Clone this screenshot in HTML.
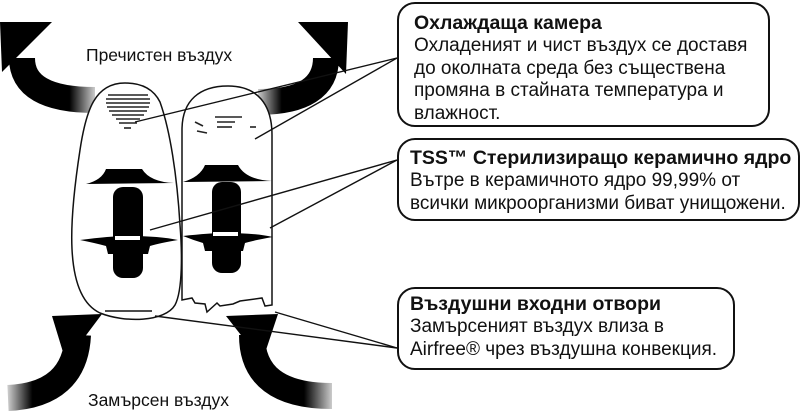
<!DOCTYPE html>
<html><head><meta charset="utf-8"><style>
html,body{margin:0;padding:0;background:#fff;}
body{width:800px;height:414px;position:relative;overflow:hidden;font-family:"Liberation Sans","DejaVu Sans",sans-serif;color:#111;}
.box{position:absolute;border:2px solid #111;border-radius:18px;box-sizing:border-box;}
.t{position:absolute;white-space:nowrap;font-size:19px;line-height:22.5px;}
.b{font-weight:bold;font-size:19.5px;}
</style></head><body>
<svg width="800" height="414" style="position:absolute;left:0;top:0">
<defs>
<linearGradient id="g1" x1="0" y1="0" x2="1" y2="0"><stop offset="0.65" stop-color="#000"/><stop offset="1" stop-color="#ccc"/></linearGradient>
<linearGradient id="g2" x1="1" y1="0" x2="0" y2="0"><stop offset="0.65" stop-color="#000"/><stop offset="1" stop-color="#ccc"/></linearGradient>
</defs>
<!-- arrows -->
<path d="M22,58 Q22,100 95,100" stroke="url(#g1)" stroke-width="26" fill="none"/>
<polygon points="0,22 52,22 2,72" fill="#000"/>
<path d="M326,58 Q326,102 258,102" stroke="url(#g2)" stroke-width="26" fill="none"/>
<polygon points="298,22 348,22 346,74" fill="#000"/>
<path d="M78,335 Q75,395 8,398" stroke="url(#g2)" stroke-width="26" fill="none"/>
<polygon points="52,316 102,314 66,362" fill="#000"/>
<path d="M252,335 Q252,396 332,396" stroke="url(#g1)" stroke-width="26" fill="none"/>
<polygon points="226,316 278,314 262,362" fill="#000"/>
<!-- right body -->
<path d="M182,300 L182,130 C182,100 200,86 228,86 C258,86 272,105 272,135 L272,305 L265,306 L262,298 L240,301 L233,304 L220,306 L217,303 L207,312 L205,304 L195,303 L192,298 Z" fill="#fff" stroke="#111" stroke-width="1.5"/>
<!-- left body -->
<path d="M125,83 C95,83 86,110 80,150 C70,215 62,295 100,313 C125,323 165,322 175,305 C183,290 182,250 180,225 C177,175 170,130 160,102 C153,88 140,83 125,83 Z" fill="#fff" stroke="#111" stroke-width="1.5"/>
<!-- vents -->
<g stroke="#222" stroke-width="1.6">
<line x1="108" y1="95" x2="148" y2="95"/><line x1="106" y1="99" x2="150" y2="99"/><line x1="106" y1="103" x2="150" y2="103"/><line x1="107" y1="107" x2="149" y2="107"/><line x1="109" y1="111" x2="147" y2="111"/><line x1="112" y1="115" x2="144" y2="115"/><line x1="116" y1="119" x2="140" y2="119"/><line x1="119" y1="123" x2="137" y2="123"/><line x1="124" y1="128" x2="131" y2="128"/>
<line x1="215" y1="117" x2="242" y2="117"/><line x1="217" y1="122" x2="235" y2="122"/><line x1="217" y1="127" x2="232" y2="127"/><line x1="195" y1="122" x2="203" y2="126"/><line x1="197" y1="131" x2="207" y2="133"/><line x1="250" y1="127" x2="256" y2="127"/>
</g>
<line x1="105" y1="311" x2="152" y2="311" stroke="#111" stroke-width="1.5"/>
<!-- left internals -->
<path d="M106,169 L142,169 Q150,182 174,183 L86,184 Q102,180 106,169Z" fill="#000"/>
<rect x="113" y="187" width="30" height="91" rx="10" fill="#000"/>
<path d="M80,240 Q110,236 128,236 Q160,236 178,240 Q160,243 150,246 L148,254 L108,254 L106,246 Q95,243 80,240Z" fill="#000"/>
<rect x="115" y="236" width="25" height="4" fill="#fff"/>
<!-- right internals -->
<path d="M205,165 L238,165 Q246,180 272,181 L183,182 Q200,177 205,165Z" fill="#000"/>
<rect x="212" y="182" width="29" height="91" rx="10" fill="#000"/>
<path d="M183,236 Q210,233 226,233 Q255,233 273,237 Q255,240 245,243 L243,251 L205,251 L203,243 Q193,240 183,236Z" fill="#000"/>
<rect x="213" y="232" width="25" height="4" fill="#fff"/>
<!-- connectors -->
<g stroke="#111" stroke-width="1.4">
<line x1="397" y1="58" x2="135" y2="122"/><line x1="397" y1="58" x2="255" y2="139"/>
<line x1="397" y1="160" x2="150" y2="230"/><line x1="397" y1="160" x2="270" y2="228"/>
<line x1="397" y1="348" x2="155" y2="316"/><line x1="397" y1="348" x2="275" y2="312"/>
</g>
</svg>
<div class="t" style="left:86px;top:44px;font-size:17.5px;">Пречистен въздух</div>
<div class="t" style="left:88px;top:389px;font-size:17.5px;">Замърсен въздух</div>
<div class="box" style="left:397px;top:2px;width:373px;height:125px;"></div>
<div class="t b" style="left:414px;top:12px;">Охлаждаща камера</div>
<div class="t" style="left:414px;top:35px;">Охладеният и чист въздух се доставя<br>до околната среда без съществена<br>промяна в стайната температура и<br>влажност.</div>
<div class="box" style="left:397px;top:138px;width:403px;height:83px;"></div>
<div class="t b" style="left:410px;top:147px;">TSS™ Стерилизиращо керамично ядро</div>
<div class="t" style="left:410px;top:170px;">Вътре в керамичното ядро 99,99% от<br>всички микроорганизми биват унищожени.</div>
<div class="box" style="left:397px;top:287px;width:338px;height:83px;"></div>
<div class="t b" style="left:410px;top:293px;">Въздушни входни отвори</div>
<div class="t" style="left:410px;top:316px;">Замърсеният въздух влиза в<br>Airfree® чрез въздушна конвекция.</div>
</body></html>
